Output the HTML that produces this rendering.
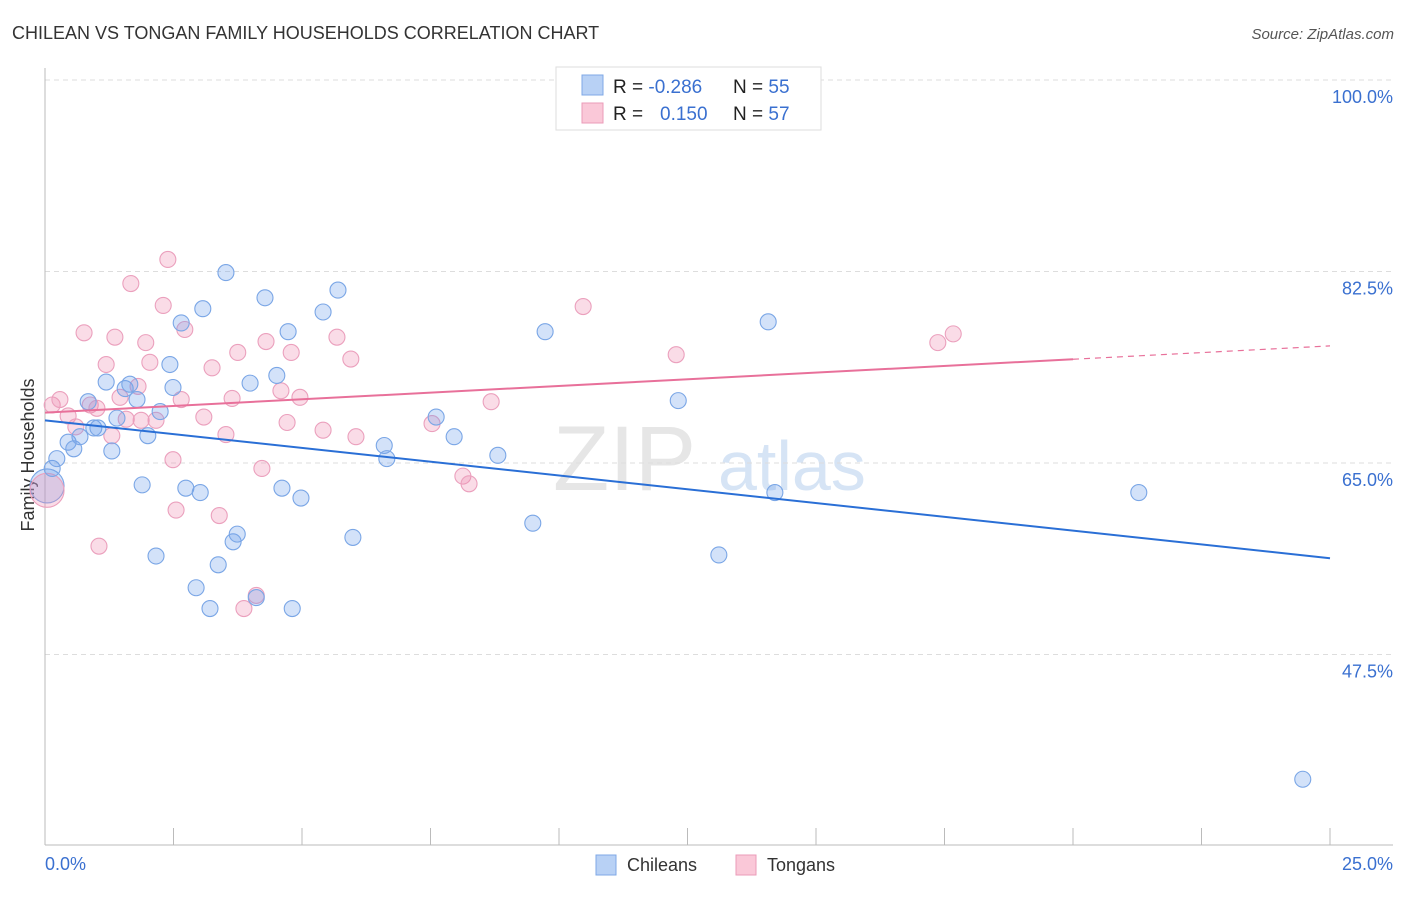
<!DOCTYPE html>
<html><head><meta charset="utf-8"><style>
body{margin:0;background:#fff;font-family:"Liberation Sans",sans-serif}
svg text{font-family:"Liberation Sans",sans-serif}
</style></head><body>
<svg id="chart" width="1406" height="892">
<text x="12" y="39" font-size="18" fill="#333">CHILEAN VS TONGAN FAMILY HOUSEHOLDS CORRELATION CHART</text>
<text x="1394" y="39" font-size="15" fill="#555" font-style="italic" text-anchor="end">Source: ZipAtlas.com</text>
<g>
<text x="553" y="490" font-size="92" fill="#e6e6e6" font-family="Liberation Serif">ZIP</text>
<text x="718" y="490" font-size="70" fill="#d6e4f5">atlas</text>
</g>
<g id="grid"></g><g id="axes"></g>
<text transform="translate(34,455) rotate(-90)" font-size="18" fill="#333" text-anchor="middle">Family Households</text>
<g id="marks"></g>
<g>
<rect x="556" y="67" width="265" height="63" fill="#fff" stroke="#ddd"/>
<rect x="582" y="75" width="21" height="20" fill="#b8d1f5" stroke="#7fa8e6"/>
<rect x="582" y="103" width="21" height="20" fill="#fac8d8" stroke="#eb9bb8"/>
<text x="613" y="93" font-size="19" fill="#222">R = <tspan fill="#3a70d0">-0.286</tspan></text>
<text x="733" y="93" font-size="19" fill="#222">N = <tspan fill="#3a70d0">55</tspan></text>
<text x="613" y="120" font-size="19" fill="#222">R = <tspan fill="#3a70d0" x="660">0.150</tspan></text>
<text x="733" y="120" font-size="19" fill="#222">N = <tspan fill="#3a70d0">57</tspan></text>
</g>
<g>
<rect x="596" y="855" width="20" height="20" fill="#b8d1f5" stroke="#7fa8e6"/>
<text x="627" y="871" font-size="18" fill="#333">Chileans</text>
<rect x="736" y="855" width="20" height="20" fill="#fac8d8" stroke="#eb9bb8"/>
<text x="767" y="871" font-size="18" fill="#333">Tongans</text>
</g>
</svg>
<script>
const yTicks=[100,82.5,65,47.5];
const yTickLabels=["100.0%","82.5%","65.0%","47.5%"];
const xTickLabels=["0.0%","25.0%"];
const chileanX=[0.14,0.23,0.45,0.56,0.68,0.84,0.95,1.03,1.19,1.30,1.40,1.56,1.65,1.79,1.89,2.00,2.16,2.24,2.43,2.49,2.65,2.74,2.94,3.02,3.07,3.21,3.37,3.52,3.66,3.74,3.99,4.11,4.28,4.51,4.61,4.73,4.81,4.98,5.41,5.70,5.99,6.60,6.65,7.61,7.96,8.81,9.49,9.73,12.32,13.11,14.07,14.20,21.28,24.47];
const chileanY=[64.5,65.4,66.9,66.3,67.4,70.6,68.2,68.2,72.4,66.1,69.1,71.8,72.2,70.8,63.0,67.5,56.5,69.7,74.0,71.9,77.8,62.7,53.6,62.3,79.1,51.7,55.7,82.4,57.8,58.5,72.3,52.7,80.1,73.0,62.7,77.0,51.7,61.8,78.8,80.8,58.2,66.6,65.4,69.2,67.4,65.7,59.5,77.0,70.7,56.6,77.9,62.3,62.3,36.1];
const tonganX=[0.14,0.29,0.45,0.60,0.76,0.88,1.01,1.05,1.19,1.30,1.36,1.46,1.58,1.67,1.81,1.87,1.96,2.04,2.16,2.30,2.39,2.49,2.55,2.65,2.72,3.09,3.25,3.39,3.52,3.64,3.75,3.87,4.11,4.22,4.30,4.59,4.71,4.79,4.96,5.41,5.68,5.95,6.05,7.53,8.13,8.25,8.68,10.47,12.28,17.37,17.67];
const tonganY=[70.3,70.8,69.3,68.3,76.9,70.3,70.0,57.4,74.0,67.5,76.5,71.0,69.0,81.4,72.0,68.9,76.0,74.2,68.9,79.4,83.6,65.3,60.7,70.8,77.2,69.2,73.7,60.2,67.6,70.9,75.1,51.7,52.9,64.5,76.1,71.6,68.7,75.1,71.0,68.0,76.5,74.5,67.4,68.6,63.8,63.1,70.6,79.3,74.9,76.0,76.8];
const bigPoints=[[0.04,62.9,"c"],[0.04,62.5,"t"]];
const chileanTrend=[68.9,56.3];
const tonganTrend=[69.6,75.7];
const tonganSolidEnd=20;
const NS="http://www.w3.org/2000/svg";
const X=v=>45+v/25*1285, Y=v=>80+(100-v)*191.5/17.5;
function mk(tag,attrs,parent){const e=document.createElementNS(NS,tag);for(const k in attrs)e.setAttribute(k,attrs[k]);document.getElementById(parent).appendChild(e);return e;}
yTicks.forEach((t,i)=>{
 const g=mk('line',{x1:45,x2:1393,y1:Y(t),y2:Y(t),stroke:'#ddd','stroke-dasharray':'5,4'},'grid');
 
 
 const l=mk('text',{x:1393,y:Y(t)+23,'font-size':18,fill:'#3a70d0','text-anchor':'end'},'axes');
 l.textContent=yTickLabels[i];
 
 
});
let a=mk('line',{x1:45,x2:45,y1:68,y2:845,stroke:'#bbb'},'axes');


a=mk('line',{x1:45,x2:1393,y1:845,y2:845,stroke:'#bbb'},'axes');


for(let i=0;i<=10;i++){const t=mk('line',{x1:X(i*2.5),x2:X(i*2.5),y1:828,y2:845,stroke:'#bbb'},'axes');
 
 }
[[0,'start',45],[25,'end',1393]].forEach((p,i)=>{const l=mk('text',{x:p[2],y:870,'font-size':18,fill:'#3a70d0','text-anchor':p[1]},'axes');l.textContent=xTickLabels[i];
 
 });
function dot(x,y,r,c){const e=mk('circle',{cx:X(x),cy:Y(y),r:r,fill:c=='c'?'rgba(110,160,235,0.3)':'rgba(240,140,175,0.3)',stroke:c=='c'?'#7aa6e6':'#eba0bd','stroke-width':1.1},'marks');
 
 }
bigPoints.forEach(p=>dot(p[0],p[1],17,p[2]));
tonganX.forEach((x,i)=>dot(x,tonganY[i],8,'t'));
chileanX.forEach((x,i)=>dot(x,chileanY[i],8,'c'));
let ln=mk('line',{x1:X(0),y1:Y(chileanTrend[0]),x2:X(25),y2:Y(chileanTrend[1]),stroke:'#2a6fd6','stroke-width':2},'marks');


const tv=x=>tonganTrend[0]+(tonganTrend[1]-tonganTrend[0])*x/25;
ln=mk('line',{x1:X(0),y1:Y(tv(0)),x2:X(tonganSolidEnd),y2:Y(tv(tonganSolidEnd)),stroke:'#e8709a','stroke-width':2},'marks');


ln=mk('line',{x1:X(tonganSolidEnd),y1:Y(tv(tonganSolidEnd)),x2:X(25),y2:Y(tv(25)),stroke:'#e8709a','stroke-width':1.2,'stroke-dasharray':'6,5'},'marks');


</script>
</body></html>
